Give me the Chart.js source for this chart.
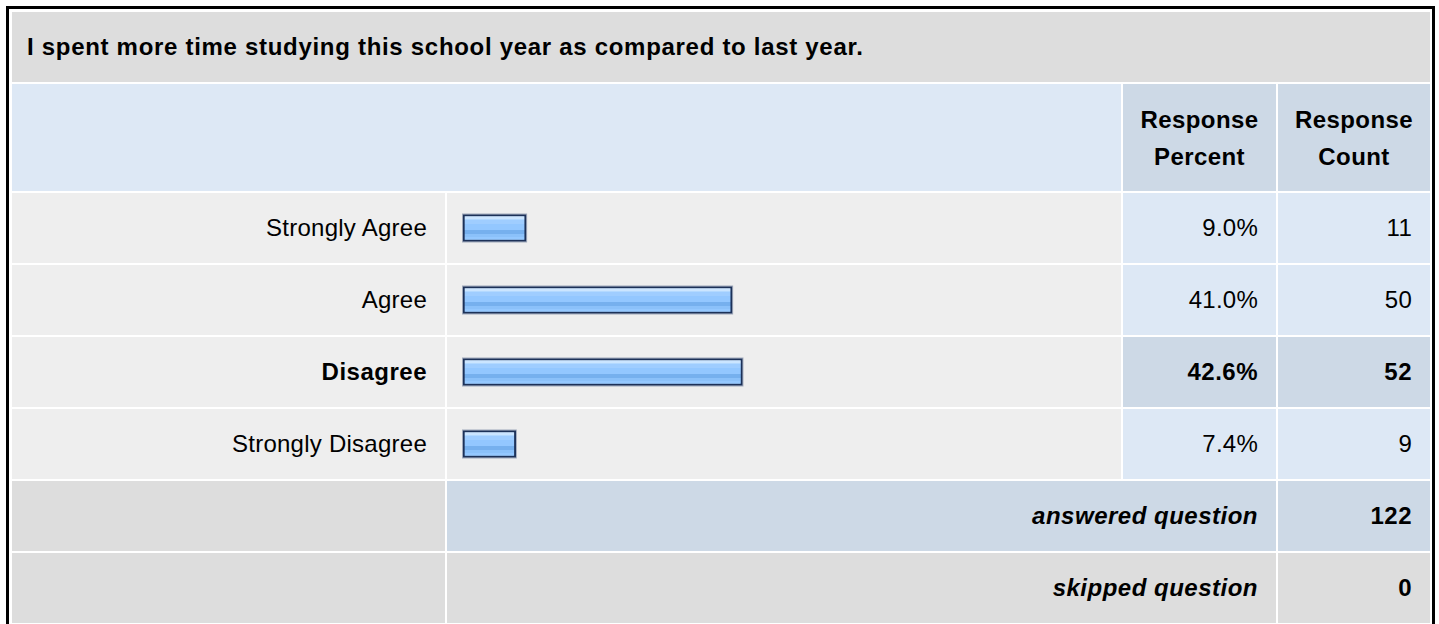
<!DOCTYPE html>
<html lang="en">
<head>
<meta charset="UTF-8">
<title>Survey question results</title>
<script src="https://cdn.jsdelivr.net/npm/chart.js"></script>
<style>
    body {
        margin: 0;
        background: #fff;
        font-family: Arial, "Liberation Sans", sans-serif;
        color: #000;
        font-size: 24px;
        letter-spacing: 0.25px;
    }
    .box {
        position: absolute;
        left: 6px;
        top: 6px;
        width: 1418px;
        border: 3px solid #000;
        padding: 3px 2px 3px 3px;
        background: #fff;
    }
    .grid {
        display: grid;
        grid-template-columns: 433px 674px 153px 152px;
        grid-template-rows: 70px 107px repeat(6, 70px);
        gap: 2px;
    }
    .grid > div {
        display: flex;
        align-items: center;
        justify-content: flex-end;
        padding: 0 18px;
        background: #eeeeee;
    }
    .title { grid-column: 1 / 5; justify-content: flex-start !important; padding-left: 15px !important;
             background: #dddddd !important; font-weight: bold; letter-spacing: 0.7px; }
    .hblank { grid-column: 1 / 3; background: #dde8f5 !important; }
    .hcol { justify-content: center !important; text-align: center; background: #cdd9e6 !important;
            font-weight: bold; line-height: 37px; letter-spacing: 0.4px; padding: 0 !important; }
    .num { background: #dde8f5 !important; }
    .best { font-weight: bold; letter-spacing: 0.5px; }
    .num.best { background: #cdd9e6 !important; }
    .gray { background: #dddddd !important; }
    .sum { grid-column: 2 / 4; font-weight: bold; font-style: italic; letter-spacing: 0.5px; }
    .sumv { font-weight: bold; letter-spacing: 0.5px; }
    .blue2 { background: #cdd9e6 !important; }
    #barWrap {
        position: absolute;
        left: 447px;
        top: 192px;
        width: 674px;
        height: 288px;
    }
</style>
</head>
<body>
    <div class="box"><div class="grid" id="grid"></div></div>
    <div id="barWrap"><canvas id="barChart"></canvas></div>

<script>
    const question = "I spent more time studying this school year as compared to last year.";
    const categories = ["Strongly Agree", "Agree", "Disagree", "Strongly Disagree"];
    const percents = [9.0, 41.0, 42.6, 7.4];
    const counts = [11, 50, 52, 9];
    const answered = 122;
    const skipped = 0;

    // table around the bars
    const grid = document.getElementById("grid");
    function cell(cls, html) {
        const d = document.createElement("div");
        d.className = cls;
        d.innerHTML = html;
        grid.appendChild(d);
        return d;
    }
    const bestIdx = percents.indexOf(Math.max(...percents));

    cell("title", question);
    cell("hblank", "");
    cell("hcol", "Response<br>Percent");
    cell("hcol", "Response<br>Count");
    categories.forEach((c, i) => {
        const b = i === bestIdx ? " best" : "";
        cell("label" + b, c);
        cell("bar", "");
        cell("num" + b, percents[i].toFixed(1) + "%");
        cell("num" + b, counts[i]);
    });
    cell("gray", "");
    cell("sum blue2", "answered question");
    cell("sumv blue2", answered);
    cell("gray", "");
    cell("sum gray", "skipped question");
    cell("sumv gray", skipped);

    // bars
    const barThick = 27;
    const barBorder = 2;
    const axisMin = -0.8;

    function stripes(ctx) {
        const chart = ctx.chart;
        const y = chart.scales.y;
        const c = y ? y.getPixelForValue(ctx.dataIndex) : NaN;
        if (!isFinite(c)) return "#93c7ff";
        const t = c - barThick / 2 + barBorder;
        const b = c + barThick / 2 - barBorder;
        const g = chart.ctx.createLinearGradient(0, t, 0, b);
        const stops = [
            [0.00, "#cbe5ff"], [0.09, "#cbe5ff"], [0.09, "#b3d9ff"], [0.17, "#b3d9ff"],
            [0.17, "#9fcdff"], [0.34, "#9fcdff"], [0.34, "#93c7ff"], [0.60, "#93c7ff"],
            [0.60, "#76b0ee"], [0.77, "#76b0ee"], [0.77, "#8bc1fa"], [0.91, "#8bc1fa"],
            [0.91, "#94c8ff"], [1.00, "#94c8ff"]
        ];
        stops.forEach(s => g.addColorStop(s[0], s[1]));
        return g;
    }

    const outline = {
        id: "outline",
        afterDatasetsDraw(chart) {
            const c = chart.ctx;
            c.save();
            c.strokeStyle = "rgba(60, 80, 120, 0.45)";
            c.lineWidth = 1;
            chart.getDatasetMeta(0).data.forEach(el => {
                const p = el.getProps(["x", "y", "base", "height"], true);
                c.strokeRect(p.base - 0.5, p.y - p.height / 2 - 0.5, p.x - p.base + 1, p.height + 1);
            });
            c.restore();
        }
    };

    const barChart = new Chart(document.getElementById("barChart"), {
        type: "bar",
        data: {
            labels: categories,
            datasets: [{
                data: percents,
                base: axisMin,
                backgroundColor: stripes,
                borderColor: "#1c3158",
                borderWidth: barBorder,
                borderSkipped: false,
                barThickness: barThick
            }]
        },
        options: {
            indexAxis: "y",
            responsive: true,
            maintainAspectRatio: false,
            animation: false,
            layout: { padding: { left: 16, right: 9, top: 0, bottom: 0 } },
            plugins: { legend: { display: false }, tooltip: { enabled: false } },
            scales: {
                x: { display: false, min: axisMin, max: 100 },
                y: { display: false }
            }
        },
        plugins: [outline]
    });
    barChart.update();
</script>
</body>
</html>
